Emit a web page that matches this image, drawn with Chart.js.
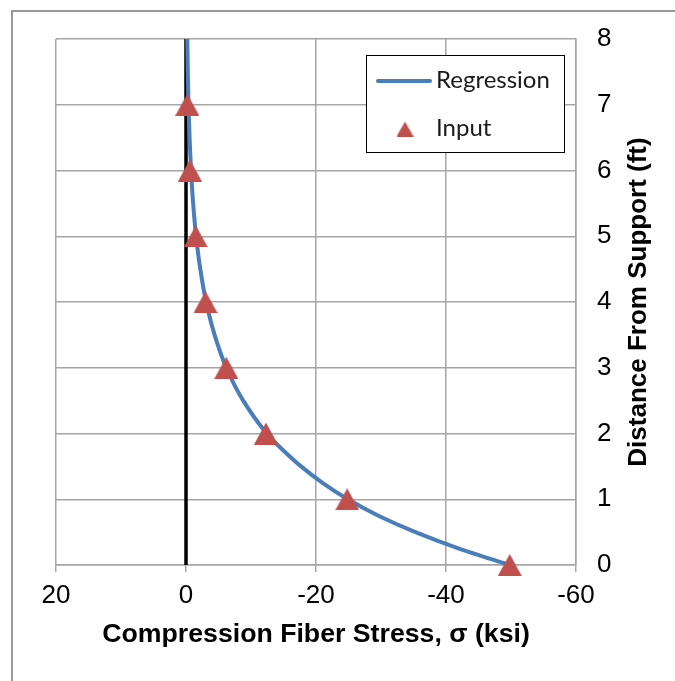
<!DOCTYPE html>
<html><head><meta charset="utf-8">
<script src="https://cdn.jsdelivr.net/npm/chart.js@4/dist/chart.umd.min.js"></script>
<style>html,body{margin:0;padding:0;background:#fff;}canvas{display:block;}</style>
</head><body>
<canvas id="c" width="675" height="681"></canvas>
<script>
// ---- data ----
const xTickValues = [20, 0, -20, -40, -60];          // Compression Fiber Stress (ksi), reversed axis
const yTickValues = [0, 1, 2, 3, 4, 5, 6, 7, 8];     // Distance From Support (ft)
const inputDistance = [0, 1, 2, 3, 4, 5, 6, 7];
const inputStress   = [-49.8, -24.8, -12.3, -6.2, -3.0, -1.5, -0.6, -0.2];
const regressionDistance = [0, 0.25, 0.5, 0.75, 1, 1.25, 1.5, 1.75, 2, 2.5, 3, 3.5, 4, 4.5, 5, 5.5, 6, 6.5, 7, 7.5, 8];
const regressionStress   = [-49.8, -42, -35.3, -29.6, -24.9, -21, -17.7, -14.9, -12.4, -8.8, -6.2, -4.4, -3.1, -2.2, -1.55, -1.1, -0.78, -0.55, -0.39, -0.28, -0.2];
const zeroLineDistance = [0, 8];
const zeroLineStress   = [0, 0];
const seriesNames = ['Regression', 'Input'];
const xTitle = 'Compression Fiber Stress, σ (ksi)';
const yTitle = 'Distance From Support (ft)';

const BLUE = '#4a7ebb', RED = '#c0504d', GRID = '#a6a6a6';

function triangleImage(w, h) {
  const c = document.createElement('canvas');
  c.width = w; c.height = h;
  const g = c.getContext('2d');
  g.fillStyle = RED;
  g.beginPath();
  g.moveTo(w / 2, 0);
  g.lineTo(w, h);
  g.lineTo(0, h);
  g.closePath();
  g.fill();
  return c;
}
const bigTri = triangleImage(24, 22);
const smallTri = triangleImage(17, 15);

const zip = (xs, ys) => xs.map((x, i) => ({x: x, y: ys[i]}));

const decor = {
  id: 'decor',
  beforeDraw(chart) {
    const ctx = chart.ctx;
    ctx.save();
    ctx.strokeStyle = '#999999';
    ctx.lineWidth = 2;
    ctx.beginPath();
    ctx.moveTo(12, 681);
    ctx.lineTo(12, 11);
    ctx.lineTo(675, 11);
    ctx.stroke();
    ctx.restore();
  },
  afterDraw(chart) {
    const ctx = chart.ctx;
    const a = chart.chartArea;
    ctx.save();
    // y-axis title, reading bottom-to-top on the right
    ctx.translate(639, (a.top + a.bottom) / 2);
    ctx.rotate(-Math.PI / 2);
    ctx.font = 'bold 26px "Liberation Sans", Arial, sans-serif';
    ctx.fillStyle = '#000';
    ctx.textAlign = 'center';
    ctx.textBaseline = 'middle';
    ctx.fillText(yTitle, 0, 0);
    ctx.restore();

    // legend box
    ctx.save();
    ctx.fillStyle = '#fff';
    ctx.fillRect(366, 55, 199, 98);
    ctx.strokeStyle = '#000';
    ctx.lineWidth = 1;
    ctx.strokeRect(366.5, 55.5, 198, 97);
    ctx.strokeStyle = BLUE;
    ctx.lineWidth = 4;
    ctx.lineCap = 'round';
    ctx.beginPath();
    ctx.moveTo(378, 81);
    ctx.lineTo(430, 81);
    ctx.stroke();
    ctx.drawImage(smallTri, 405 - 8.5, 129 - 7.5);
    ctx.fillStyle = '#1a1a1a';
    ctx.font = '24px Lato, "Open Sans", sans-serif';
    ctx.textAlign = 'left';
    ctx.textBaseline = 'middle';
    ctx.fillText(seriesNames[0], 436, 80);
    ctx.fillText(seriesNames[1], 436, 128);
    ctx.restore();
  }
};

new Chart(document.getElementById('c'), {
  type: 'scatter',
  data: {
    datasets: [
      {
        label: 'zero',
        data: zip(zeroLineStress, zeroLineDistance),
        showLine: true, borderColor: '#000', borderWidth: 3.5,
        pointRadius: 0, order: 3, clip: false
      },
      {
        label: seriesNames[0],
        data: zip(regressionStress, regressionDistance),
        showLine: true, borderColor: BLUE, borderWidth: 4, tension: 0.3,
        pointRadius: 0, order: 2, clip: false
      },
      {
        label: seriesNames[1],
        data: zip(inputStress, inputDistance),
        showLine: false, pointStyle: bigTri, pointRadius: 12,
        backgroundColor: RED, borderColor: RED, order: 1, clip: false
      }
    ]
  },
  options: {
    responsive: false,
    animation: false,
    devicePixelRatio: 1,
    layout: {padding: {left: 56, top: 39, right: 0, bottom: 0}},
    plugins: {legend: {display: false}, tooltip: {enabled: false}},
    scales: {
      x: {
        type: 'linear', reverse: true, min: -60, max: 20,
        afterBuildTicks: s => { s.ticks = xTickValues.map(v => ({value: v})); },
        afterFit: s => { s.height = 116; },
        grid: {color: GRID, lineWidth: 1.5, drawTicks: true, tickLength: 7, tickColor: GRID},
        border: {color: GRID, width: 1.5},
        ticks: {color: '#000', padding: 8, maxRotation: 0,
                font: {family: '"Liberation Sans", Arial, sans-serif', size: 26}},
        title: {display: true, text: xTitle, color: '#000', padding: {top: 0, bottom: 30},
                font: {family: '"Liberation Sans", Arial, sans-serif', size: 26.7, weight: 'bold'}}
      },
      y: {
        type: 'linear', position: 'right', min: 0, max: 8,
        afterBuildTicks: s => { s.ticks = yTickValues.map(v => ({value: v})); },
        afterFit: s => { s.width = 99; },
        grid: {color: GRID, lineWidth: 1.5, drawTicks: false},
        border: {color: GRID, width: 1.5},
        ticks: {color: '#000', padding: 21,
                font: {family: '"Liberation Sans", Arial, sans-serif', size: 26}}
      }
    }
  },
  plugins: [decor]
});
</script>
</body></html>
